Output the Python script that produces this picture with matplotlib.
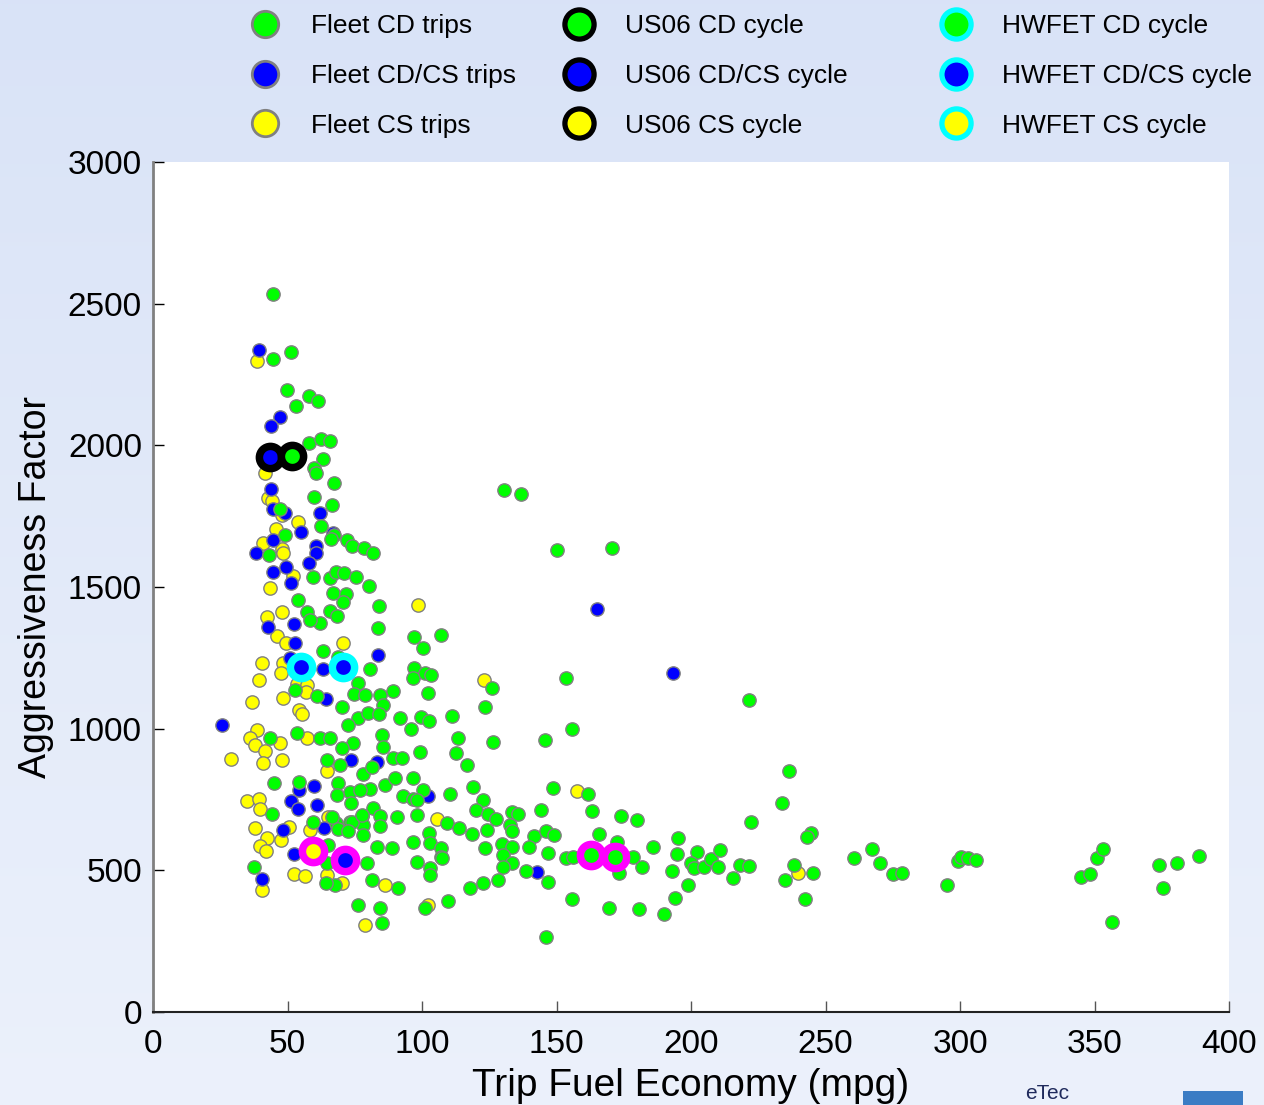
import numpy as np
import matplotlib
matplotlib.use("Agg")
import matplotlib.pyplot as plt
from matplotlib.lines import Line2D
from matplotlib.patches import Rectangle

plt.rcParams['font.family'] = ['Liberation Sans', 'DejaVu Sans']

# Fleet trips, charge depleting (green)
cd_mpg = [44.6, 44.6, 51.3, 49.8, 58.0, 61.3, 53.2, 58.0, 62.5, 65.8, 63.2, 59.8, 60.6, 67.3, 59.8,
          66.5, 62.5, 49.1, 67.3, 66.2, 72.1, 74.0, 78.4, 81.8, 43.1, 47.2, 59.5, 65.8, 68.0, 71.0,
          75.5, 80.3, 66.9, 71.7, 70.6, 53.9, 57.2, 65.8, 84.0, 62.1, 58.4, 68.4, 83.6, 97.0, 100.4,
          107.1, 63.2, 68.8, 80.7, 97.0, 96.7, 101.1, 103.3, 76.2, 74.7, 78.8, 52.8, 61.0, 70.3, 84.4,
          85.5, 89.2, 102.2, 76.2, 79.9, 84.0, 72.5, 91.8, 95.9, 99.6, 102.6, 111.1, 123.4, 126.0, 85.1,
          85.5, 74.3, 53.5, 43.5, 62.1, 65.8, 70.3, 64.7, 69.5, 78.1, 81.4, 89.2, 92.6, 99.3, 113.4,
          126.4, 145.7, 155.8, 112.6, 116.7, 80.7, 86.2, 90.0, 96.7, 100.4, 45.0, 54.3, 68.8, 73.2, 77.0,
          92.9, 96.7, 98.1, 110.4, 119.0, 122.7, 148.7, 161.7, 73.6, 81.8, 77.7, 84.4, 90.7, 98.1, 120.1,
          124.5, 127.5, 133.5, 135.7, 144.2, 68.0, 73.2, 78.1, 84.4, 109.3, 113.8, 118.6, 124.2, 132.7, 133.5,
          141.6, 146.1, 149.1, 78.1, 83.3, 88.8, 96.7, 102.6, 103.0, 107.1, 107.1, 123.4, 129.7, 133.5, 139.8,
          146.8, 130.1, 98.1, 103.0, 103.0, 79.5, 128.3, 133.5, 130.1, 138.7, 146.8, 81.4, 91.1, 117.8, 122.7,
          67.7, 64.3, 64.7, 65.1, 76.2, 84.4, 101.1, 109.7, 85.1, 155.8, 146.1, 44.2, 37.5, 59.5, 66.5,
          68.8, 74.0, 72.5, 77.7, 107.4, 68.4, 130.5, 136.8, 150.2, 170.6, 153.5, 221.6, 236.4, 233.8, 222.3,
          163.2, 174.0, 179.9, 165.8, 172.5, 185.9, 195.2, 194.8, 202.2, 200.0, 201.1, 204.8, 207.4, 210.8, 210.0,
          218.2, 221.6, 215.6, 244.6, 243.1, 238.3, 245.3, 234.9, 242.4, 181.8, 178.4, 173.2, 192.9, 198.9, 194.0,
          190.0, 180.7, 169.5, 153.5, 156.1, 260.6, 267.3, 270.3, 275.1, 278.4, 295.2, 299.3, 300.4, 303.0, 305.9,
          345.0, 348.3, 350.9, 353.2, 356.5, 374.0, 375.5, 380.7, 388.8]
cd_af = [2534, 2305, 2329, 2195, 2174, 2156, 2139, 2008, 2022, 2015, 1952, 1920, 1902, 1867, 1818,
         1789, 1715, 1683, 1683, 1669, 1666, 1645, 1638, 1620, 1613, 1775, 1535, 1532, 1553, 1549,
         1535, 1503, 1479, 1475, 1447, 1454, 1412, 1415, 1433, 1373, 1383, 1398, 1355, 1323, 1285,
         1331, 1274, 1253, 1211, 1214, 1179, 1196, 1189, 1161, 1122, 1119, 1136, 1115, 1076, 1119,
         1083, 1133, 1126, 1038, 1055, 1052, 1013, 1038, 999, 1041, 1027, 1045, 1076, 1144, 978,
         935, 949, 985, 967, 967, 967, 932, 889, 872, 840, 865, 896, 896, 918, 967,
         953, 960, 999, 914, 872, 787, 801, 826, 826, 783, 808, 812, 808, 776, 783,
         762, 752, 748, 769, 794, 748, 791, 769, 738, 720, 692, 692, 688, 695, 713,
         699, 681, 706, 699, 713, 667, 671, 660, 656, 667, 649, 628, 642, 660, 639,
         621, 639, 625, 625, 582, 579, 600, 632, 596, 579, 547, 579, 593, 582, 582,
         561, 554, 529, 508, 484, 526, 466, 526, 512, 498, 459, 466, 438, 438, 455,
         448, 455, 526, 589, 378, 367, 367, 392, 314, 399, 265, 699, 512, 671, 688,
         646, 671, 639, 695, 544, 766, 1842, 1828, 1631, 1638, 1179, 1101, 851, 738, 671,
         709, 692, 678, 628, 600, 582, 614, 558, 565, 526, 508, 512, 540, 572, 512,
         519, 515, 473, 632, 618, 519, 491, 466, 399, 512, 547, 491, 498, 448, 402,
         346, 364, 367, 544, 547, 544, 575, 526, 487, 491, 448, 533, 547, 544, 536,
         476, 487, 544, 575, 318, 519, 438, 526, 551]

# Fleet trips, charge depleting / charge sustaining (blue)
cdcs_mpg = [39.4, 47.2, 43.9, 43.9, 44.6, 49.1, 62.1, 55.0, 66.9, 60.6, 60.6, 38.3, 58.0, 44.6, 49.4,
            51.3, 42.7, 52.4, 52.8, 50.9, 63.2, 64.3, 83.6, 25.6, 73.6, 83.3, 59.8, 54.3, 51.3, 61.0,
            53.9, 48.3, 52.4, 40.5, 63.6, 102.2, 142.8, 165.1, 193.3, 44.6]
cdcs_af = [2336, 2100, 2068, 1846, 1775, 1761, 1761, 1694, 1690, 1645, 1620, 1620, 1585, 1553, 1571,
           1514, 1359, 1369, 1302, 1249, 1211, 1105, 1260, 1013, 889, 882, 798, 783, 745, 731,
           716, 642, 558, 469, 649, 762, 494, 1422, 1196, 1666]

# Fleet trips, charge sustaining (yellow)
cs_mpg = [38.7, 41.6, 42.7, 44.2, 48.0, 53.9, 45.7, 40.9, 48.0, 48.3, 52.0, 43.5, 42.4, 48.0, 46.1,
          49.4, 70.6, 40.5, 48.3, 47.6, 39.4, 53.5, 57.2, 56.9, 48.3, 36.8, 54.3, 55.4, 38.7, 36.1,
          37.9, 47.2, 41.6, 29.0, 40.9, 48.0, 57.2, 64.7, 34.9, 39.4, 39.8, 37.9, 50.6, 42.4, 47.6,
          39.8, 42.0, 58.4, 65.1, 52.4, 56.5, 40.5, 70.3, 64.7, 86.2, 102.2, 78.8, 105.6, 98.5, 123.0,
          157.6, 239.8]
cs_af = [2298, 1902, 1814, 1803, 1754, 1729, 1705, 1655, 1634, 1620, 1539, 1496, 1394, 1412, 1327,
         1302, 1302, 1232, 1232, 1196, 1172, 1158, 1154, 1129, 1108, 1094, 1066, 1052, 995, 967,
         942, 949, 921, 893, 879, 889, 967, 851, 745, 752, 716, 649, 653, 614, 607,
         586, 568, 642, 688, 487, 480, 431, 455, 484, 448, 378, 307, 681, 1436, 1172,
         780, 491]

# Dynamometer cycles (fill colour = mode, ring colour = cycle)
us06_mpg = [43.5, 51.7]
us06_af = [1959, 1962]
us06_fill = ['#0000ff', '#00ff00']
hwfet_mpg = [55.0, 70.6]
hwfet_af = [1218, 1218]
hwfet_fill = ['#0000ff', '#0000ff']
udds_mpg = [59.5, 71.4, 162.8, 171.7]
udds_af = [568, 536, 554, 547]
udds_fill = ['#ffff00', '#0000ff', '#00ff00', '#00ff00']

GREEN, BLUE, YELLOW = '#00ff00', '#0000ff', '#ffff00'

fig = plt.figure(figsize=(12.64, 11.05), dpi=100)

# light blue gradient background
bg = fig.add_axes([0, 0, 1, 1], zorder=-10)
grad = np.linspace(0, 1, 256).reshape(-1, 1)
top = np.array([0.851, 0.890, 0.969])
bot = np.array([0.925, 0.945, 0.985])
img = top + (bot - top) * grad[:, :, None]
bg.imshow(img, aspect='auto', extent=[0, 1, 0, 1], origin='upper')
bg.axis('off')

ax = fig.add_axes([153 / 1264, 1 - 1012 / 1105, (1229 - 153) / 1264, (1012 - 162) / 1105])
ax.set_facecolor('white')

kw = dict(s=92, edgecolors='#808080', linewidths=1.0, zorder=3)
ax.scatter(cs_mpg, cs_af, c=YELLOW, **kw)
ax.scatter(cdcs_mpg, cdcs_af, c=BLUE, **kw)
ax.scatter(cd_mpg, cd_af, c=GREEN, **kw)

for xs, ys, fills, ring in [(us06_mpg, us06_af, us06_fill, 'black'),
                            (hwfet_mpg, hwfet_af, hwfet_fill, '#00ffff'),
                            (udds_mpg, udds_af, udds_fill, '#ff00ff')]:
    for x, y, f in zip(xs, ys, fills):
        ax.plot(x, y, 'o', markersize=16, markerfacecolor=f, markeredgecolor=ring,
                markeredgewidth=5.4, zorder=5)

ax.set_xlim(0, 400)
ax.set_ylim(0, 3000)
ax.set_xticks(np.arange(0, 401, 50))
ax.set_yticks(np.arange(0, 3001, 500))
ax.tick_params(direction='in', length=8, width=1, labelsize=24, pad=8)
ax.tick_params(axis='x', colors='#555555', labelcolor='black', pad=12)
ax.spines['top'].set_visible(False)
ax.spines['right'].set_visible(False)
ax.spines['left'].set_color('#808080')
ax.spines['left'].set_linewidth(2)
ax.spines['bottom'].set_color('#222222')
ax.spines['bottom'].set_linewidth(1.5)
ax.set_xlabel('Trip Fuel Economy (mpg)', fontsize=28, labelpad=6)
ax.set_ylabel('Aggressiveness Factor', fontsize=27, labelpad=10)


def handle(fill, edge, ms, mew):
    return Line2D([], [], marker='o', linestyle='none', markersize=ms,
                  markerfacecolor=fill, markeredgecolor=edge, markeredgewidth=mew)


columns = [
    (['Fleet CD trips', 'Fleet CD/CS trips', 'Fleet CS trips'], '#808080', 19, 2.0, 245),
    (['US06 CD cycle', 'US06 CD/CS cycle', 'US06 CS cycle'], 'black', 21, 3.8, 559),
    (['HWFET CD cycle', 'HWFET CD/CS cycle', 'HWFET CS cycle'], '#00ffff', 21, 3.8, 936),
]
for labels, edge, ms, mew, xpix in columns:
    hs = [handle(c, edge, ms, mew) for c in (GREEN, BLUE, YELLOW)]
    fig.legend(hs, labels, loc='upper left', bbox_to_anchor=(xpix / 1264, 1 - 14 / 1105),
               frameon=False, fontsize=19, handlelength=1.5, handletextpad=1.0,
               labelspacing=0.98, borderpad=0, borderaxespad=0)

# partner logos in the lower right corner
fig.text(1025 / 1264, 2 / 1105, 'eTec', fontsize=15, color='#1f2a5c', va='bottom')
fig.patches.append(Rectangle((1183 / 1264, 0), 60 / 1264, 14 / 1105, transform=fig.transFigure,
                             facecolor='#3b7cc4', edgecolor='none'))

fig.savefig('out.png', dpi=100)
